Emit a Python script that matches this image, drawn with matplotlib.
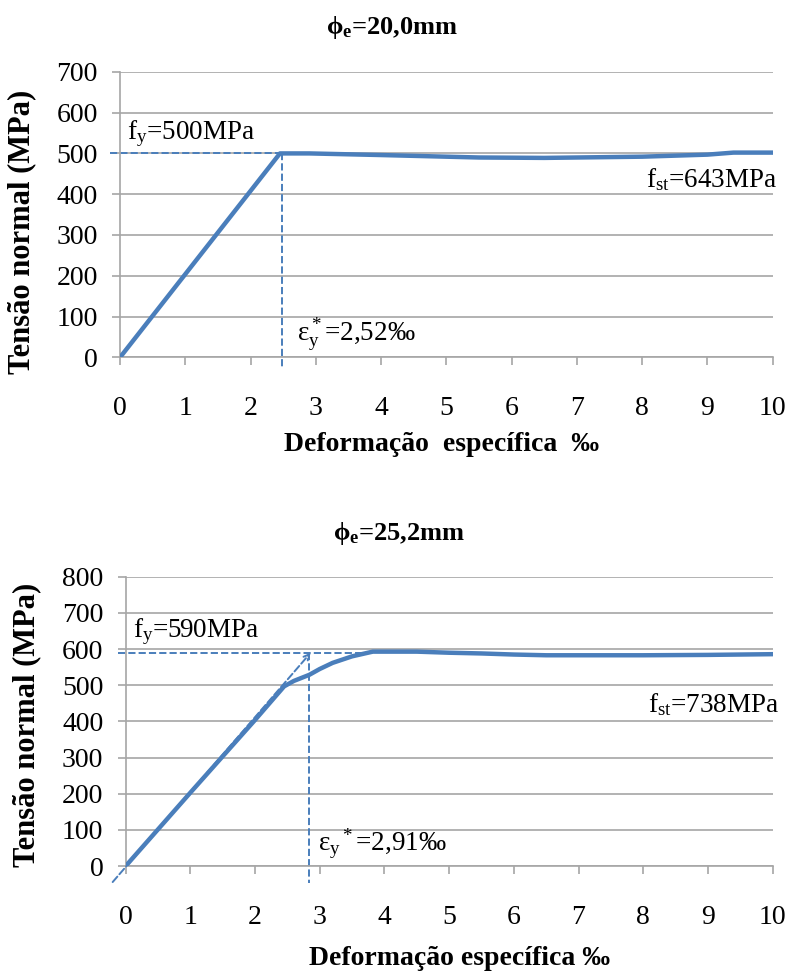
import matplotlib
matplotlib.use('Agg')
import matplotlib.pyplot as plt
import numpy as np

plt.rcParams['font.family'] = ['Liberation Serif', 'DejaVu Serif']
plt.rcParams['mathtext.fontset'] = 'custom'
plt.rcParams['mathtext.rm'] = 'Liberation Serif'
plt.rcParams['mathtext.it'] = 'Liberation Serif:italic'
plt.rcParams['mathtext.bf'] = 'Liberation Serif:bold'

# DATA
# phi 20,0 mm
x1 = [0, 2.45, 2.9, 4.0, 5.0, 5.5, 6.5, 7.0, 8.0, 9.0, 9.4, 10.0]
y1 = [0, 500, 500, 496, 492, 490, 489, 490, 492, 497, 502, 502]
fy1, ey1 = 500, 2.48

# phi 25,2 mm
x2 = [0, 1.0, 2.0, 2.45, 2.6, 2.84, 3.0, 3.2, 3.5, 3.82, 4.5, 5.0, 5.5, 6.0, 6.5, 8.0, 9.0, 10.0]
y2 = [0, 203, 404, 497, 512, 529, 545, 562, 580, 593, 593, 590, 588, 585, 583, 583, 584, 586]
fy2, ey2 = 590, 2.83

blue = '#4a7ebb'
grid_c = '#a6a6a6'

fig = plt.figure(figsize=(7.9, 9.71), dpi=100)
ax1 = fig.add_axes([0.152, 0.632, 0.826, 0.294])
ax2 = fig.add_axes([0.159, 0.108, 0.819, 0.298])


def style(ax, ymax, xlab):
    ax.set_xlim(0, 10)
    ax.set_ylim(0, ymax)
    ax.set_xticks(np.arange(0, 11, 1))
    ax.set_yticks(np.arange(0, ymax + 1, 100))
    ax.yaxis.grid(True, color=grid_c, lw=1.2)
    ax.set_axisbelow(True)
    for s in ['top', 'right']:
        ax.spines[s].set_visible(False)
    for s in ['left', 'bottom']:
        ax.spines[s].set_color(grid_c)
        ax.spines[s].set_linewidth(1.2)
    ax.tick_params(axis='both', colors=grid_c, length=6, width=1.2, labelsize=20,
                   labelcolor='black')
    ax.tick_params(axis='x', pad=22)
    ax.tick_params(axis='y', pad=10)
    ax.set_xlabel(xlab, fontsize=20, fontweight='bold')
    ax.set_ylabel('Tensão normal (MPa)', fontsize=22, fontweight='bold')


# top chart
style(ax1, 700, 'Deformação  específica  ‰')
ax1.xaxis.set_label_coords(0.493, -0.262)
ax1.yaxis.set_label_coords(-0.128, 0.44)
fig.text(0.496, 0.972, r'$\mathbf{\phi_e}$=20,0mm', fontsize=19, fontweight='bold',
         ha='center', va='center')
ax1.plot(x1, y1, color=blue, lw=3.2, zorder=3)
ax1.plot([-0.15, ey1], [fy1, fy1], ls='--', color=blue, lw=1.4, clip_on=False)
ax1.plot([ey1, ey1], [fy1, -25], ls='--', color=blue, lw=1.4, clip_on=False)
ax1.text(0.1, 535, r'f$_\mathrm{y}$=500MPa', fontsize=19.5, va='baseline')
ax1.text(10.08, 418, r'f$_\mathrm{st}$=643MPa', fontsize=19.5, va='baseline', ha='right')
ax1.text(2.71, 42, r'ε$^*_\mathrm{y}$=2,52‰', fontsize=19.5, va='baseline')

# bottom chart
style(ax2, 800, 'Deformação específica ‰')
ax2.xaxis.set_label_coords(0.516, -0.275)
ax2.yaxis.set_label_coords(-0.131, 0.488)
fig.text(0.505, 0.451, r'$\mathbf{\phi_e}$=25,2mm', fontsize=19, fontweight='bold',
         ha='center', va='center')
ax2.plot(x2, y2, color=blue, lw=3.2, zorder=3)
ax2.plot([-0.12, 3.82], [fy2, fy2], ls='--', color=blue, lw=1.4, clip_on=False)
ax2.plot([ey2, ey2], [fy2, -47], ls='--', color=blue, lw=1.4, clip_on=False)
ax2.annotate('', xy=(2.86, fy2), xytext=(-0.2, -44),
             arrowprops=dict(arrowstyle='->', ls='--', color=blue, lw=1.4,
                             shrinkA=0, shrinkB=0),
             annotation_clip=False)
ax2.text(0.11, 632, r'f$_\mathrm{y}$=590MPa', fontsize=19.5, va='baseline')
ax2.text(10.1, 427, r'f$_\mathrm{st}$=738MPa', fontsize=19.5, va='baseline', ha='right')
ax2.text(2.97, 44, r'ε$_\mathrm{y}$$^*$=2,91‰', fontsize=19.5, va='baseline')

fig.savefig('out.png', dpi=100)
